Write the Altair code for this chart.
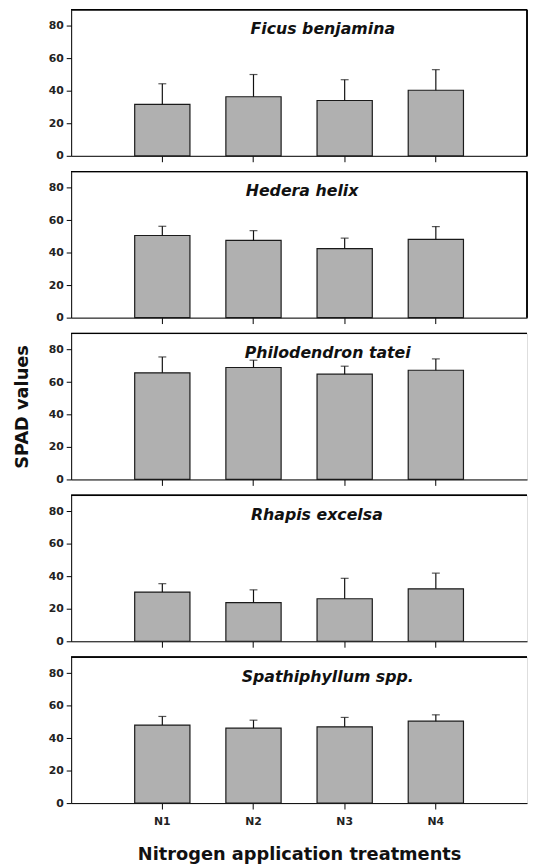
import altair as alt
import pandas as pd

treatments = ["N1", "N2", "N3", "N4"]
species = ["Ficus benjamina", "Hedera helix", "Philodendron tatei",
           "Rhapis excelsa", "Spathiphyllum spp."]

ficus_mean = [31.7, 36.4, 34.1, 40.4]
ficus_err = [12.7, 13.7, 12.8, 12.7]
hedera_mean = [50.6, 47.6, 42.5, 48.2]
hedera_err = [5.7, 6.0, 6.5, 7.9]
philo_mean = [65.7, 69.0, 64.9, 67.3]
philo_err = [9.8, 4.5, 4.9, 7.0]
rhapis_mean = [30.3, 23.8, 26.2, 32.3]
rhapis_err = [5.2, 7.9, 12.6, 9.7]
spath_mean = [48.1, 46.2, 47.0, 50.5]
spath_err = [5.3, 4.9, 5.8, 3.9]

means = [ficus_mean, hedera_mean, philo_mean, rhapis_mean, spath_mean]
errs = [ficus_err, hedera_err, philo_err, rhapis_err, spath_err]
y_ticks = [0, 20, 40, 60, 80]

W, H = 462, 148
FONT = "DejaVu Sans"
title_x = [255, 234, 260, 249, 260]   # label placement inside each panel (px)
full_frame = [True, True, False, False, False]


def panel(i):
    df = pd.DataFrame({"treatment": treatments, "mean": means[i], "err": errs[i]})
    df["upper"] = df["mean"] + df["err"]
    bottom = i == len(species) - 1
    x_axis = alt.Axis(
        title="Nitrogen application treatments" if bottom else None,
        labels=bottom, ticks=True, tickSize=6, tickColor="black",
        domainColor="black", domainWidth=1, labelPadding=7,
        labelFont=FONT, labelFontSize=11, labelFontWeight="bold",
        labelColor="#222", labelAngle=0,
        titleFont=FONT, titleFontSize=18, titleFontWeight="bold",
        titleColor="#111", titlePadding=19,
    )
    x = alt.X("treatment:N", sort=treatments,
              scale=alt.Scale(paddingInner=0.394, paddingOuter=0.697),
              axis=x_axis)
    y_axis = alt.Axis(
        values=y_ticks, title="SPAD values" if i == 2 else None,
        tickSize=5, tickColor="black", domainColor="black", domainWidth=1,
        labelPadding=3, labelFont=FONT, labelFontSize=11, labelOverlap=False,
        labelFontWeight="bold", labelColor="#222", grid=False,
        titleFont=FONT, titleFontSize=18, titleFontWeight="bold",
        titleColor="#111", titlePadding=17,
    )
    y_scale = alt.Scale(domain=[0, 90], nice=False)
    y_mean = alt.Y("mean:Q", scale=y_scale, axis=y_axis)
    y_upper = alt.Y("upper:Q", scale=y_scale, axis=y_axis)

    base = alt.Chart(df)
    bars = base.mark_bar(fill="#b0b0b0", stroke="#1a1a1a", strokeWidth=1.2).encode(x=x, y=y_mean)
    rule = base.mark_rule(color="#111", strokeWidth=1.2).encode(x=x, y=y_mean, y2="upper:Q")
    cap = base.mark_tick(color="#111", size=8, thickness=1.2).encode(x=x, y=y_upper)
    label = alt.Chart(pd.DataFrame({"name": [species[i]]})).mark_text(
        font=FONT, fontSize=16, fontWeight="bold", fontStyle="italic",
        color="#111", align="center", baseline="alphabetic",
    ).encode(x=alt.value(title_x[i]), y=alt.value(25), text="name:N")
    top = alt.Chart(df).mark_rule(color="black", strokeWidth=1).encode(
        x=alt.value(0), x2=alt.value(W), y=alt.value(0))
    layers = [bars, rule, cap, label, top]
    if full_frame[i]:
        right = alt.Chart(df).mark_rule(color="black", strokeWidth=1).encode(
            x=alt.value(W), y=alt.value(0), y2=alt.value(H))
        layers.append(right)
    return alt.layer(*layers).properties(width=W, height=H)


chart = alt.vconcat(*[panel(i) for i in range(len(species))], spacing=8).properties(
    padding={"left": 5, "top": -5, "right": 0, "bottom": 0}
).configure_view(stroke=None).configure(background="white")

chart.save("out.html", embed_options={"renderer": "svg", "actions": False})
